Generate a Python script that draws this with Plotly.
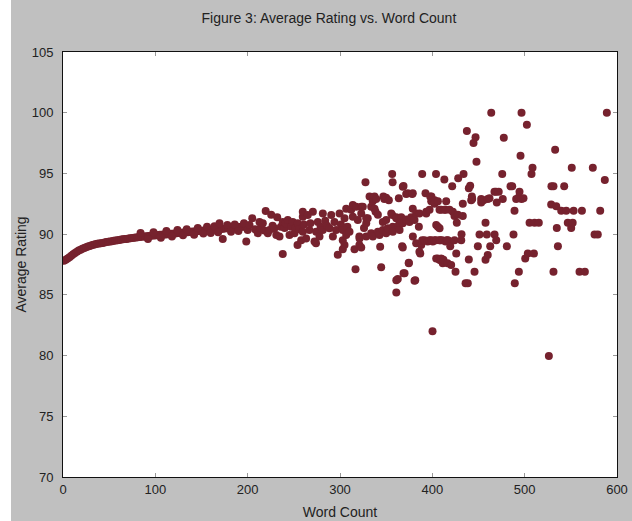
import plotly.graph_objects as go

# Dense part (low word counts): one average per word count
curve_words = [1, 3, 5, 7, 9, 11, 13, 15, 17, 19, 21, 23, 25, 27, 29, 31, 33, 35, 37, 39,
               41, 43, 45, 47, 49, 51, 53, 55, 57, 59, 61, 63, 65, 67, 69, 71, 73, 75, 77, 79,
               81, 83, 85, 87, 89, 91, 93, 95, 97, 99, 101, 103, 105, 107, 109, 111, 113, 115, 117, 119,
               121, 123, 125, 127, 129, 131, 133, 135, 137, 139, 141, 143, 145, 147, 149, 151, 153, 155, 157, 159,
               161, 163, 165, 167, 169, 171, 173, 175, 177, 179, 181, 183, 185, 187, 189, 191, 193, 195, 197, 199]
curve_rating = [87.80, 87.90, 88.00, 88.10, 88.22, 88.35, 88.45, 88.55, 88.65, 88.72,
                88.80, 88.85, 88.92, 88.98, 89.02, 89.08, 89.12, 89.16, 89.20, 89.22,
                89.26, 89.28, 89.32, 89.35, 89.38, 89.40, 89.42, 89.45, 89.47, 89.50,
                89.52, 89.55, 89.57, 89.60, 89.61, 89.64, 89.66, 89.68, 89.70, 89.72,
                89.74, 89.76, 89.78, 89.80, 89.81, 89.83, 89.84, 89.86, 89.88, 89.89,
                89.90, 89.92, 89.94, 89.95, 89.97, 89.98, 90.00, 90.01, 90.03, 90.04,
                90.06, 90.07, 90.09, 90.10, 90.12, 90.13, 90.15, 90.16, 90.18, 90.19,
                90.21, 90.22, 90.24, 90.25, 90.27, 90.28, 90.30, 90.31, 90.33, 90.34,
                90.36, 90.37, 90.39, 90.40, 90.42, 90.43, 90.45, 90.46, 90.48, 90.49,
                90.51, 90.52, 90.54, 90.55, 90.57, 90.58, 90.60, 90.61, 90.63, 90.64]

# Scattered part (fewer reviews per word count)
scatter_words = [84, 92, 98, 106, 112, 118, 124, 130, 134, 142, 146, 152, 156, 160, 164, 168, 169.5, 173, 178, 182,
                 186, 190, 196, 198.5, 200, 202, 205, 208, 211, 212.8, 214, 216.4, 218, 219.5, 221.8, 223.7, 225.5, 227, 229, 231,
                 232, 234.5, 236, 238, 238, 240, 241, 243.5, 245.3, 247, 248.9, 250.7, 252, 254.3, 254, 256, 258, 259.7, 259.7, 259.7,
                 261, 263.3, 265.1, 266.9, 268, 270.6, 272.4, 274.2, 274, 276, 277.8, 279, 281.4, 281.4, 284, 286, 288.6, 290.5, 292.3, 294,
                 295.8, 297.6, 299.5, 301, 303, 303, 303, 304.9, 304.9, 306.7, 306.7, 308, 310.3, 312.1, 313.9, 313.9, 315.7, 316.8, 317.5, 319.3,
                 321, 321.2, 321, 323, 323, 323, 324.7, 326, 327.6, 328.4, 328.4, 328.4, 330, 332, 333.8, 333.8, 335.5, 335.6, 336.3, 337.4,
                 337.4, 338.5, 339.2, 341, 341, 342.8, 343.5, 344.6, 346.4, 346.4, 347, 348, 350, 350, 350, 351.8, 352.9, 355.5, 356.5, 356.5,
                 357, 357.2, 357.2, 360.9, 360.9, 361, 361, 362.6, 363.7, 363.7, 364.5, 366.3, 367.3, 368, 368, 368, 368.8, 368.8, 369.9, 371.7,
                 371.7, 373.4, 374.5, 374.5, 375.3, 377.1, 378.2, 378.8, 378.8, 378.9, 380.7, 380.7, 381.5, 382.5, 382.5, 385.4, 386, 386, 386.9, 388,
                 389, 389, 391.5, 392.6, 393.4, 393.4, 395, 397, 397.7, 397, 398.7, 398.8, 399, 400.2, 400.5, 402.3, 402.4, 402.4, 404, 404,
                 404.2, 404.2, 406, 406, 406, 407.8, 407.8, 407.8, 407.8, 408.5, 408.5, 409.6, 409.6, 410.7, 411.3, 412, 413, 413.2, 414.3, 414.3,
                 415, 415.7, 416.5, 416.8, 418.6, 418.6, 419.4, 420.4, 421.5, 422.2, 424, 424, 425.1, 425.9, 426.5, 427.6, 428, 431.3, 431.6, 433,
                 433, 433.8, 436, 437.4, 438.4, 439.5, 439.5, 441, 442.1, 442.8, 443.2, 444.6, 445.7, 446.8, 447.8, 449.3, 451.1, 452.9, 452.9, 455.4,
                 457.6, 457.6, 459, 460, 460, 461.9, 462.7, 463.8, 467.3, 467.4, 469, 469.2, 469.8, 471.9, 475.7, 476.3, 477.4, 480.7, 484.7, 486.5,
                 487.9, 489, 489.3, 490.8, 493.7, 493.7, 494.4, 495.5, 496.6, 496.6, 498.7, 500.6, 502.4, 503.4, 505.3, 507.4, 508.5, 510, 510.7, 515.3,
                 526.2, 528.7, 529, 531.2, 531.2, 533, 534.2, 534.8, 536, 539.6, 542.8, 545, 546.7, 550.4, 551, 552, 553, 559.4, 562, 565.2,
                 573.8, 575.7, 579.2, 581.8, 586.8, 589]
scatter_rating = [90.10, 89.60, 90.15, 89.70, 90.25, 89.80, 90.35, 89.90, 90.40, 89.95, 90.50, 90.05, 90.60, 90.10, 90.65, 90.15, 90.90, 89.60, 90.75, 90.20,
                  90.80, 90.25, 90.90, 89.40, 90.35, 90.75, 91.30, 90.40, 90.07, 91.00, 90.50, 90.90, 90.30, 91.90, 90.07, 90.34, 91.60, 90.70, 90.48, 89.93,
                  91.40, 89.80, 90.60, 91.00, 88.36, 90.50, 90.90, 91.16, 89.93, 90.60, 91.00, 90.07, 90.50, 90.90, 89.10, 90.40, 89.50, 91.43, 91.85, 90.20,
                  90.80, 89.65, 91.57, 90.34, 90.90, 91.85, 89.40, 90.20, 89.24, 91.00, 89.80, 90.60, 91.70, 90.34, 91.10, 90.70, 90.48, 91.57, 89.80, 91.00,
                  90.34, 88.30, 91.70, 90.80, 90.34, 89.50, 88.75, 91.30, 89.10, 92.10, 89.93, 90.60, 90.20, 92.00, 92.40, 91.43, 88.75, 87.10, 92.26, 91.16,
                  89.80, 89.65, 89.10, 92.26, 91.70, 88.90, 92.26, 90.50, 94.27, 91.30, 90.90, 89.80, 91.30, 93.10, 92.26, 90.07, 92.70, 89.80, 92.90, 93.10,
                  92.10, 91.85, 92.90, 91.60, 90.20, 89.93, 88.96, 87.27, 91.00, 90.34, 93.10, 92.90, 93.00, 91.16, 90.07, 90.48, 92.80, 91.70, 94.95, 91.57,
                  94.27, 90.60, 90.20, 91.40, 91.30, 86.20, 85.20, 86.30, 92.95, 90.75, 90.34, 91.40, 89.00, 93.90, 90.90, 88.90, 93.96, 86.77, 86.77, 91.20,
                  93.30, 93.36, 87.65, 87.60, 91.00, 91.40, 93.30, 93.36, 92.10, 89.80, 91.16, 86.16, 86.20, 91.70, 89.24, 90.60, 91.70, 88.55, 88.40, 89.10,
                  94.95, 89.50, 89.50, 93.36, 91.85, 91.70, 89.40, 92.00, 93.10, 89.50, 89.50, 92.70, 93.10, 82.00, 89.40, 89.50, 92.80, 92.50, 94.95, 89.50,
                  90.75, 88.00, 92.70, 90.60, 88.00, 92.00, 90.48, 89.50, 87.90, 89.50, 87.87, 92.00, 88.00, 89.50, 87.60, 87.90, 94.50, 92.00, 92.00, 89.40,
                  92.70, 89.50, 87.60, 89.50, 92.00, 89.40, 89.00, 87.46, 93.94, 91.85, 91.50, 89.50, 86.90, 88.40, 90.94, 91.60, 94.60, 89.50, 90.00, 92.50,
                  91.50, 94.95, 85.95, 98.50, 85.95, 93.77, 87.92, 93.99, 92.80, 93.10, 92.90, 97.50, 86.90, 97.97, 95.96, 89.00, 89.98, 92.90, 92.60, 92.80,
                  90.94, 87.90, 89.98, 92.90, 88.28, 92.95, 89.00, 100.00, 93.50, 89.98, 93.50, 89.50, 92.60, 93.50, 94.95, 92.90, 97.94, 89.00, 93.94, 93.94,
                  89.98, 91.93, 85.95, 92.90, 93.03, 86.90, 93.50, 96.46, 92.90, 100.00, 92.95, 88.00, 99.00, 88.40, 90.94, 94.95, 95.47, 88.40, 90.94, 90.94,
                  79.96, 92.45, 93.94, 93.94, 86.90, 96.95, 92.30, 90.50, 89.00, 91.93, 93.94, 91.93, 90.94, 90.50, 95.47, 90.94, 91.93, 86.90, 91.93, 86.90,
                  95.47, 89.98, 89.98, 91.93, 94.46, 100.00]

x_ticks = [0, 100, 200, 300, 400, 500, 600]
y_ticks = [70, 75, 80, 85, 90, 95, 100, 105]

all_x = curve_words + scatter_words
all_y = curve_rating + scatter_rating

dot_color = "#76222e"
font_family = "Liberation Sans, Arial, sans-serif"

fig = go.Figure()
fig.add_trace(go.Scatter(
    x=all_x, y=all_y, mode="markers",
    marker=dict(size=8, color=dot_color, line=dict(width=0)),
    showlegend=False,
))

axis_common = dict(
    showline=True, linecolor="#111111", linewidth=1, mirror="ticks",
    ticks="inside", ticklen=4, tickcolor="#999999", tickwidth=1,
    showgrid=False, zeroline=False, automargin=False,
    tickfont=dict(family=font_family, size=13, color="#222222"),
)

# Figure sits 11px right of the page edge (white strip on the left)
fig.update_layout(
    width=621, height=521,
    margin=dict(l=52, r=15, t=52, b=44),
    paper_bgcolor="#c0c0c0",
    plot_bgcolor="#ffffff",
    font=dict(family=font_family, color="#222222"),
    title=dict(text="Figure 3: Average Rating vs. Word Count",
               x=0.48, xref="paper", xanchor="center",
               y=0.965, yref="container", yanchor="middle",
               font=dict(family=font_family, size=14, color="#222222")),
    xaxis=dict(range=[0, 600], tickvals=x_ticks,
               title=dict(text="Word Count", standoff=11,
                          font=dict(family=font_family, size=14, color="#222222")),
               **axis_common),
    yaxis=dict(range=[70, 105], tickvals=y_ticks, ticklabelstandoff=6,
               title=dict(text="Average Rating", standoff=1,
                          font=dict(family=font_family, size=14, color="#222222")),
               **axis_common),
)

fig.write_html(
    "out.html",
    config={"displayModeBar": False},
    post_script="document.body.style.margin='0';document.body.style.padding='0 0 0 11px';document.body.style.background='#ffffff';",
)
